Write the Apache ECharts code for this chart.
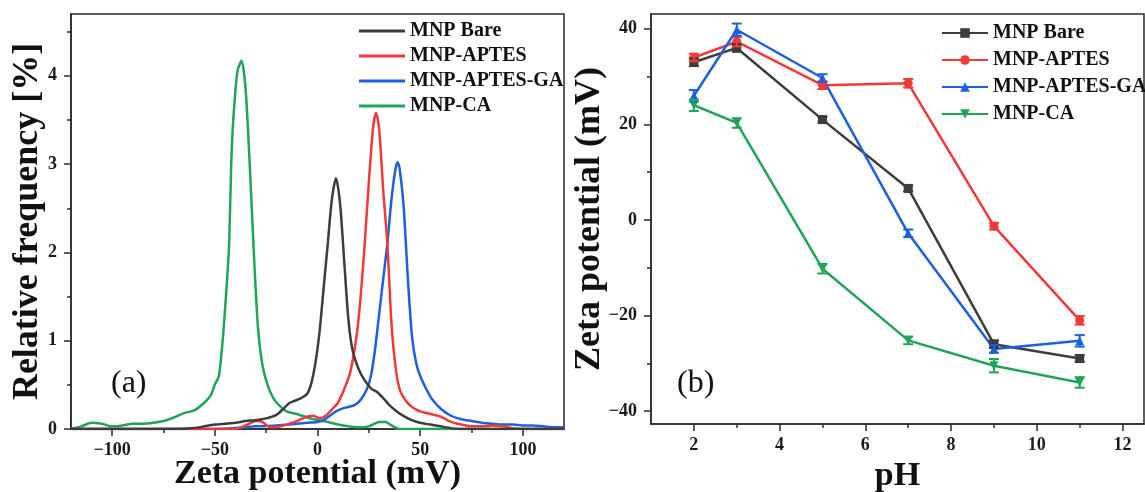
<!DOCTYPE html>
<html>
<head>
<meta charset="utf-8">
<script src="https://cdn.jsdelivr.net/npm/echarts@6/dist/echarts.min.js"></script>
<style>
  html, body { margin: 0; padding: 0; background: #fff; }
  #chart { width: 1145px; height: 492px; }
</style>
</head>
<body>
<div id="chart"></div>
<script>
// panel (a): zeta potential distribution
const bareX = [-120, -70, -60, -55, -50, -45, -40, -35, -30, -25, -20, -17, -14, -11, -8, -5, -3, -1, 1, 3, 5, 7, 9, 11, 13, 15, 17, 20, 23, 26, 29, 32, 35, 38, 41, 45, 50, 55, 60, 65, 70, 120]
const bareY = [0, 0, 0.01, 0.03, 0.05, 0.06, 0.07, 0.09, 0.1, 0.12, 0.16, 0.22, 0.29, 0.32, 0.35, 0.4, 0.52, 0.75, 1.1, 1.6, 2.1, 2.6, 2.84, 2.55, 1.9, 1.25, 0.9, 0.68, 0.55, 0.46, 0.42, 0.35, 0.27, 0.21, 0.16, 0.11, 0.07, 0.05, 0.03, 0.01, 0, 0]

const aptesX = [-120, -40, -35, -30, -27, -24, -20, -15, -10, -5, -2, 1, 4, 7, 10, 13, 16, 19, 21, 23, 25, 27, 28.5, 30, 32, 34, 36, 38, 40, 43, 46, 50, 55, 60, 65, 70, 75, 80, 85, 90, 95, 100, 120]
const aptesY = [0, 0, 0.04, 0.09, 0.08, 0.03, 0.02, 0.05, 0.09, 0.14, 0.15, 0.12, 0.15, 0.22, 0.3, 0.45, 0.65, 1.05, 1.5, 2.1, 2.8, 3.4, 3.58, 3.4, 2.7, 2.1, 1.2, 0.7, 0.45, 0.32, 0.25, 0.2, 0.17, 0.14, 0.08, 0.05, 0.03, 0.03, 0.04, 0.03, 0.01, 0, 0]

const gaX = [-120, -50, -40, -30, -20, -10, -5, 0, 3, 6, 9, 12, 15, 18, 21, 24, 26, 28, 30, 32, 34, 36, 38, 39, 40, 42, 44, 46, 48, 50, 53, 56, 60, 65, 70, 75, 80, 85, 90, 95, 100, 105, 110, 115, 120]
const gaY = [0, 0, 0.01, 0.03, 0.04, 0.06, 0.07, 0.08, 0.1, 0.15, 0.2, 0.23, 0.25, 0.27, 0.33, 0.45, 0.6, 0.9, 1.3, 1.7, 2.1, 2.6, 2.95, 3.02, 2.95, 2.5, 1.7, 1.05, 0.75, 0.6, 0.45, 0.33, 0.23, 0.15, 0.11, 0.09, 0.07, 0.06, 0.05, 0.05, 0.04, 0.04, 0.03, 0.02, 0.02]

const caX = [-120, -115, -110, -105, -100, -95, -90, -85, -80, -75, -70, -65, -60, -55, -52, -50, -48, -46, -44, -43, -42, -41, -39, -37, -35, -33, -31, -29, -27, -25, -23, -20, -15, -10, -5, 0, 5, 10, 15, 20, 25, 30, 33, 36, 40, 120]
const caY = [0, 0.03, 0.07, 0.06, 0.03, 0.04, 0.06, 0.06, 0.07, 0.09, 0.13, 0.18, 0.21, 0.3, 0.38, 0.5, 0.6, 1.05, 1.7, 2.1, 3.0, 3.5, 4.05, 4.17, 3.85, 3.0, 2.0, 1.15, 0.75, 0.55, 0.42, 0.3, 0.2, 0.17, 0.13, 0.1, 0.08, 0.05, 0.03, 0.02, 0.03, 0.08, 0.08, 0.04, 0, 0]

// panel (b): zeta potential vs pH
const phValues = [2, 3, 5, 7, 9, 11]
const bareZeta = [33, 36, 21, 6.6, -26, -29]
const bareErr = [0.8, 0.8, 0.6, 0.6, 0.8, 0.7]
const aptesZeta = [34, 37.3, 28.2, 28.6, -1.3, -21]
const aptesErr = [0.8, 1.0, 0.8, 0.9, 0.7, 0.9]
const gaZeta = [26, 39.8, 29.7, -2.8, -27, -25.3]
const gaErr = [1.2, 1.3, 0.8, 0.8, 0.8, 1.2]
const caZeta = [24, 20.3, -10.2, -25.2, -30.5, -34]
const caErr = [1.2, 1.0, 1.0, 0.8, 1.4, 1.1]

const names = ['MNP Bare', 'MNP-APTES', 'MNP-APTES-GA', 'MNP-CA']
const colors = ['#3d3d3d', '#f03a3a', '#1c5fe0', '#22a35a']

const xTicksA = [-100, -50, 0, 50, 100]
const xMinorA = [-75, -25, 25, 75]
const yTicksA = [0, 1, 2, 3, 4]
const yMinorA = [0.5, 1.5, 2.5, 3.5, 4.5]
const xTicksB = [2, 4, 6, 8, 10, 12]
const xMinorB = [3, 5, 7, 9, 11]
const yTicksB = [-40, -20, 0, 20, 40]
const yMinorB = [-30, -10, 10, 30]

const FONT = '"Liberation Serif", "Times New Roman", serif'
const AX = '#2a2a2a'
const minus = v => String(v).replace('-', '\u2212')

const zip = (xs, ys) => xs.map((x, i) => [x, ys[i]])
const zip3 = (xs, ys, es) => xs.map((x, i) => [x, ys[i], es[i]])

function axis(gridIndex, min, max, major, minor, margin, extra) {
  // major axis with labels + a silent twin for the minor ticks
  const main = Object.assign({
    type: 'value', gridIndex, min, max,
    nameMoveOverlap: false,
    axisLine: { show: true, onZero: false, lineStyle: { color: AX, width: 1.5 } },
    axisTick: { show: true, customValues: major, length: 7, lineStyle: { color: AX, width: 1.5 } },
    axisLabel: { customValues: major, formatter: minus, color: '#1a1a1a', fontFamily: FONT, fontWeight: 'bold', fontSize: 18, margin },
    splitLine: { show: false },
    nameTextStyle: { fontFamily: FONT, fontWeight: 'bold', fontSize: 36, color: '#111' }
  }, extra)
  const twin = {
    type: 'value', gridIndex, min, max,
    position: main.position,
    axisLine: { show: false, onZero: false },
    axisTick: { show: true, customValues: minor, length: 4, lineStyle: { color: AX, width: 1.5 } },
    axisLabel: { show: false },
    splitLine: { show: false }
  }
  return [main, twin]
}

const chart = echarts.init(document.getElementById('chart'))

const seriesA = [bareX, aptesX, gaX, caX].map((xs, i) => ({
  name: names[i],
  type: 'line',
  xAxisIndex: 0, yAxisIndex: 0,
  data: zip(xs, [bareY, aptesY, gaY, caY][i]),
  symbol: 'none',
  smooth: 0.25,
  lineStyle: { color: colors[i], width: 2.5 },
  itemStyle: { color: colors[i] },
  z: 4 - i
}))

const symbols = ['rect', 'circle', 'triangle', 'triangle']
const zetaB = [bareZeta, aptesZeta, gaZeta, caZeta]
const errB = [bareErr, aptesErr, gaErr, caErr]

const seriesB = zetaB.map((ys, i) => ({
  name: 'b:' + names[i],
  type: 'line',
  xAxisIndex: 2, yAxisIndex: 2,
  data: zip(phValues, ys),
  symbol: symbols[i],
  symbolRotate: i === 3 ? 180 : 0,
  symbolSize: 9,
  lineStyle: { color: colors[i], width: 2.5 },
  itemStyle: { color: colors[i] },
  z: 4
}))

const errorBars = errB.map((es, i) => ({
  type: 'custom',
  xAxisIndex: 2, yAxisIndex: 2,
  data: zip3(phValues, zetaB[i], es),
  z: 5,
  silent: true,
  renderItem(params, api) {
    const x = api.value(0), y = api.value(1), e = api.value(2)
    const top = api.coord([x, y + e])
    const bot = api.coord([x, y - e])
    const style = { stroke: colors[i], lineWidth: 2 }
    return {
      type: 'group',
      children: [
        { type: 'line', shape: { x1: top[0], y1: top[1], x2: bot[0], y2: bot[1] }, style },
        { type: 'line', shape: { x1: top[0] - 5, y1: top[1], x2: top[0] + 5, y2: top[1] }, style },
        { type: 'line', shape: { x1: bot[0] - 5, y1: bot[1], x2: bot[0] + 5, y2: bot[1] }, style }
      ]
    }
  }
}))

const legendText = { fontFamily: FONT, fontWeight: 'bold', fontSize: 20, color: '#111' }
const titleText = { fontFamily: FONT, fontWeight: 'bold', fontSize: 34, color: '#111' }

chart.setOption({
  animation: false,
  backgroundColor: '#fff',
  grid: [
    { left: 71, top: 14, width: 493, height: 415, outerBoundsMode: 'none', containLabel: false, show: true, borderColor: AX, borderWidth: 1.5 },
    { left: 651, top: 14, width: 493, height: 410, outerBoundsMode: 'none', containLabel: false, show: true, borderColor: AX, borderWidth: 1.5 }
  ],
  xAxis: [
    ...axis(0, -120, 120, xTicksA, xMinorA, 12, { position: 'bottom', name: 'Zeta potential (mV)', nameLocation: 'middle', nameGap: 28, nameTextStyle: titleText }),
    ...axis(1, 1, 12.5, xTicksB, xMinorB, 12, { position: 'bottom', name: 'pH', nameLocation: 'middle', nameGap: 35, nameTextStyle: titleText })
  ],
  yAxis: [
    ...axis(0, 0, 4.7, yTicksA, yMinorA, 14, { position: 'left', name: 'Relative frequency [%]', nameLocation: 'middle', nameGap: 25 }),
    ...axis(1, -42.7, 43.1, yTicksB, yMinorB, 14, { position: 'left', name: 'Zeta potential (mV)', nameLocation: 'middle', nameGap: 43 })
  ],
  legend: [
    {
      data: names,
      orient: 'vertical',
      left: 354, top: 16,
      icon: 'rect',
      itemWidth: 46, itemHeight: 3, itemGap: 5,
      textStyle: legendText
    },
    {
      data: names.map(n => 'b:' + n),
      formatter: n => n.replace(/^b:/, ''),
      orient: 'vertical',
      left: 936, top: 18,
      itemWidth: 46, itemHeight: 12, itemGap: 7,
      textStyle: legendText
    }
  ],
  graphic: [
    { type: 'text', left: 111, top: 368, style: { text: '(a)', font: '32px ' + FONT, fill: '#111' } },
    { type: 'text', left: 677, top: 368, style: { text: '(b)', font: '32px ' + FONT, fill: '#111' } }
  ],
  series: [...seriesA, ...seriesB, ...errorBars]
})
</script>
</body>
</html>
